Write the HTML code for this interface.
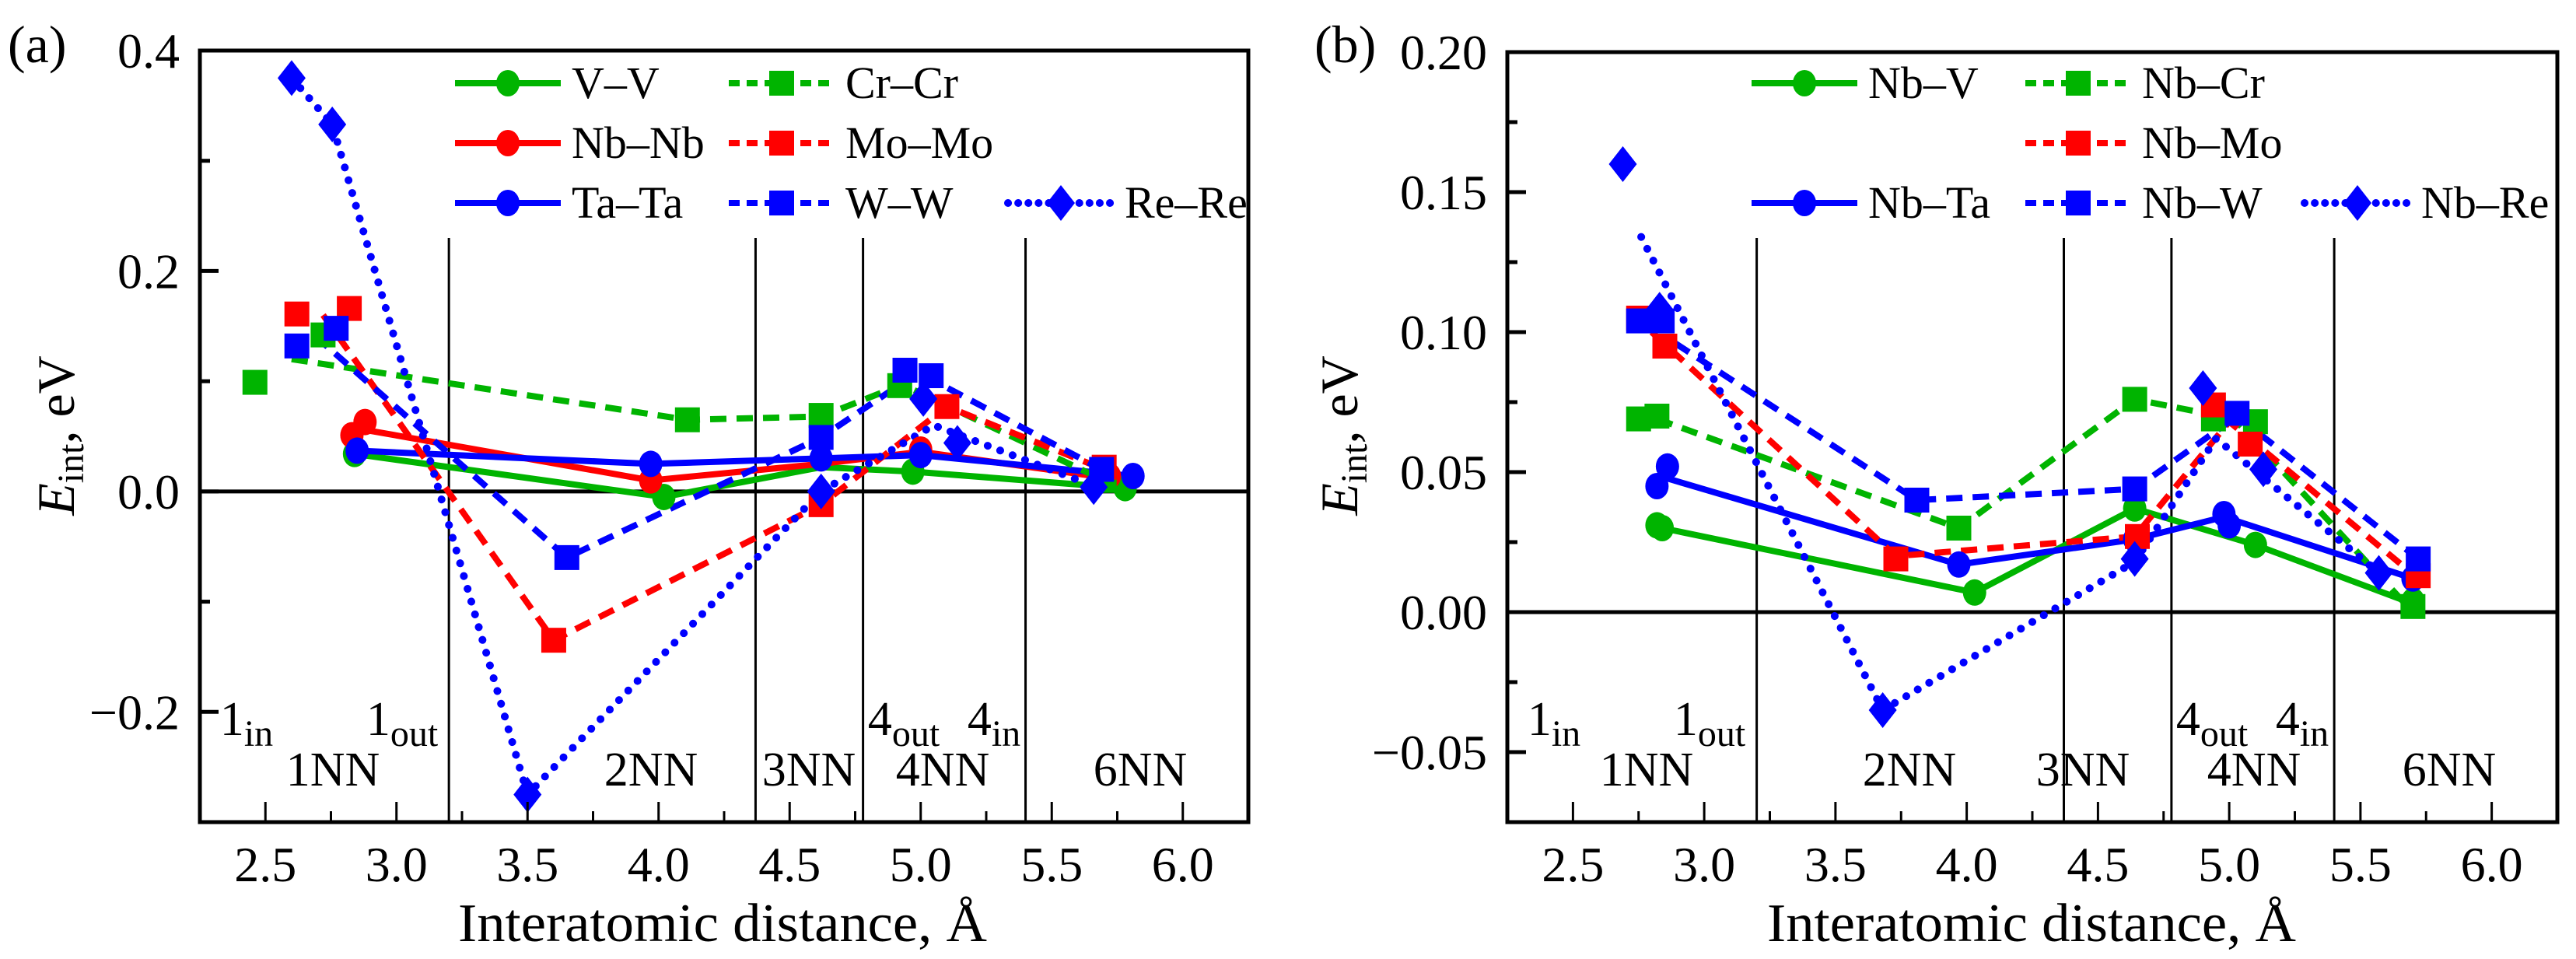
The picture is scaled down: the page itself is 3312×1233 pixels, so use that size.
<!DOCTYPE html>
<html><head><meta charset="utf-8"><title>Interaction energies vs interatomic distance</title>
<style>
html,body{margin:0;padding:0;background:#fff;}
svg{display:block;font-family:"Liberation Serif",serif;}
</style></head>
<body>
<svg id="fig" width="3312" height="1233" viewBox="0 0 3312 1233" xmlns="http://www.w3.org/2000/svg"></svg>
<script>
// ---------- Panel (a) data ----------
const aSeriesNames = ["V–V","Cr–Cr","Nb–Nb","Mo–Mo","Ta–Ta","W–W","Re–Re"];
const aVVLineX = [2.84,4.02,4.62,4.97,5.78];
const aVVLineY = [0.034,-0.005,0.022,0.018,0.003];
const aVVMarkX = [2.84,4.02,4.97,5.78];
const aVVMarkY = [0.034,-0.005,0.018,0.003];
const aNbNbLineX = [2.90,3.97,4.62,5.00,5.72];
const aNbNbLineY = [0.055,0.010,0.025,0.036,0.012];
const aNbNbMarkX = [2.83,2.88,3.97,5.00,5.72];
const aNbNbMarkY = [0.051,0.063,0.010,0.038,0.014];
const aTaTaLineX = [2.85,3.97,4.62,5.00,5.81];
const aTaTaLineY = [0.037,0.025,0.030,0.033,0.014];
const aTaTaMarkX = [2.85,3.97,4.62,5.00,5.81];
const aTaTaMarkY = [0.037,0.025,0.030,0.033,0.014];
const aCrLineX = [2.60,4.11,4.62,4.93,5.70];
const aCrLineY = [0.120,0.065,0.068,0.097,0.010];
const aCrMarkX = [2.46,2.72,4.11,4.62,4.92,5.70];
const aCrMarkY = [0.099,0.142,0.065,0.069,0.096,0.010];
const aMoLineX = [2.72,3.60,4.62,5.10,5.70];
const aMoLineY = [0.160,-0.135,-0.012,0.077,0.020];
const aMoMarkX = [2.62,2.82,3.60,4.62,5.10,5.70];
const aMoMarkY = [0.161,0.166,-0.135,-0.012,0.077,0.022];
const aWLineX = [2.69,3.65,4.62,4.99,5.69];
const aWLineY = [0.141,-0.060,0.049,0.108,0.020];
const aWMarkX = [2.62,2.77,3.65,4.62,4.94,5.04,5.69];
const aWMarkY = [0.132,0.148,-0.060,0.049,0.110,0.105,0.020];
const aReLineX = [2.60,2.755,3.50,4.62,5.05,5.66];
const aReLineY = [0.375,0.333,-0.275,0.000,0.060,0.005];
const aReMarkX = [2.60,2.755,3.50,4.62,5.01,5.14,5.66];
const aReMarkY = [0.375,0.333,-0.275,0.000,0.084,0.044,0.004];
const aYTicks = [-0.2,0.0,0.2,0.4];
const aYTickLabels = ["−0.2","0.0","0.2","0.4"];
const aYMinor = [-0.1,0.1,0.3];

// ---------- Panel (b) data ----------
const bVLineX = [2.84,4.03,4.64,5.10,5.70];
const bVLineY = [0.030,0.007,0.037,0.024,0.003];
const bVMarkX = [2.82,2.84,4.03,4.64,5.10,5.70];
const bVMarkY = [0.031,0.030,0.007,0.037,0.024,0.004];
const bTaLineX = [2.85,3.97,4.64,4.98,5.70];
const bTaLineY = [0.048,0.017,0.026,0.034,0.012];
const bTaMarkX = [2.82,2.86,3.97,4.64,4.98,5.00,5.70];
const bTaMarkY = [0.045,0.052,0.017,0.026,0.035,0.031,0.012];
const bCrLineX = [2.82,3.97,4.64,5.02,5.70];
const bCrLineY = [0.069,0.030,0.076,0.069,0.000];
const bCrMarkX = [2.75,2.82,3.97,4.64,4.94,5.10,5.70];
const bCrMarkY = [0.069,0.070,0.030,0.076,0.069,0.068,0.002];
const bMoLineX = [2.80,3.73,4.64,5.00,5.72];
const bMoLineY = [0.100,0.020,0.027,0.068,0.012];
const bMoMarkX = [2.75,2.85,3.73,4.65,4.94,5.08,5.72];
const bMoMarkY = [0.105,0.095,0.019,0.027,0.074,0.060,0.013];
const bWLineX = [2.89,3.81,4.64,5.03,5.72];
const bWLineY = [0.096,0.040,0.044,0.070,0.019];
const bWMarkX = [2.75,2.84,3.81,4.64,5.03,5.72];
const bWMarkY = [0.104,0.104,0.040,0.044,0.071,0.019];
const bReLineX = [2.76,3.68,4.64,4.95,5.57];
const bReLineY = [0.134,-0.035,0.018,0.062,0.014];
const bReMarkX = [2.69,2.83,3.68,4.64,4.90,5.13,5.57];
const bReMarkY = [0.160,0.108,-0.035,0.019,0.080,0.051,0.014];
const bYTicks = [-0.05,0.00,0.05,0.10,0.15,0.20];
const bYTickLabels = ["−0.05","0.00","0.05","0.10","0.15","0.20"];
const bYMinor = [-0.025,0.025,0.075,0.125,0.175];

const xTicks = [2.5,3.0,3.5,4.0,4.5,5.0,5.5,6.0];
const xTickLabels = ["2.5","3.0","3.5","4.0","4.5","5.0","5.5","6.0"];
const xMinor = [2.75,3.25,3.75,4.25,4.75,5.25,5.75];
const separators = [3.2,4.37,4.78,5.40];

const GREEN="#00b400", RED="#ff0000", BLUE="#0000ff";
const NS="http://www.w3.org/2000/svg";
const svg=document.getElementById('fig');
function mk(tag,parent){const e=document.createElementNS(NS,tag);parent.appendChild(e);return e;}

function panel(P){
  const g=mk('g',svg);
  
  
  const X=d=>P.x0+(d-P.xmin)/(P.xmax-P.xmin)*(P.x1-P.x0);
  const Y=v=>P.y1-(v-P.ymin)/(P.ymax-P.ymin)*(P.y1-P.y0);
  separators.forEach(s=>{
    const l=mk('line',g);
    
    
    l.setAttribute('x1',X(s));l.setAttribute('x2',X(s));l.setAttribute('y1',306);l.setAttribute('y2',P.y1);
    l.setAttribute('stroke','#000');l.setAttribute('stroke-width',3);
  });
  const z=mk('line',g);
  
  
  z.setAttribute('x1',P.x0);z.setAttribute('x2',P.x1);z.setAttribute('y1',Y(0));z.setAttribute('y2',Y(0));
  z.setAttribute('stroke','#000');z.setAttribute('stroke-width',5);
  P.series.forEach(s=>{
    const pl=mk('polyline',g);
    
    
    pl.setAttribute('points',s.lx.map((d,i)=>X(d)+','+Y(s.ly[i])).join(' '));
    pl.setAttribute('fill','none');pl.setAttribute('stroke',s.c);pl.setAttribute('stroke-width',8);
    if(s.dash==='dash'){pl.setAttribute('stroke-dasharray','21 13');}
    if(s.dash==='dot'){pl.setAttribute('stroke-dasharray','0.1 17');pl.setAttribute('stroke-linecap','round');pl.setAttribute('stroke-width',10);}
  });
  P.series.forEach(s=>{
    s.mx.forEach((d,i)=>{
      const m=drawMarker(g,s.m,X(d),Y(s.my[i]),s.c);
      
      
    });
  });
  const regs=[["1NN",P.r.nn1],["2NN",P.r.nn2],["3NN",P.r.nn3],["4NN",P.r.nn4],["6NN",P.r.nn6]];
  regs.forEach(r=>{
    const t=mk('text',g);
    
    
    t.setAttribute('x',r[1]);t.setAttribute('y',1010);t.setAttribute('font-size',62);t.setAttribute('text-anchor','middle');
    t.textContent=r[0];
  });
  const subs=[["1","in",P.r.in1],["1","out",P.r.out1],["4","out",P.r.out4],["4","in",P.r.in4]];
  subs.forEach(s=>{
    const t=mk('text',g);
    
    
    t.setAttribute('x',s[2]);t.setAttribute('y',945);t.setAttribute('font-size',62);t.setAttribute('text-anchor','middle');
    const a=mk('tspan',t);a.textContent=s[0];
    const b=mk('tspan',t);b.setAttribute('dy',14);b.setAttribute('font-size',48);b.textContent=s[1];
  });
  const fr=mk('rect',g);
  
  
  fr.setAttribute('x',P.x0);fr.setAttribute('y',P.y0);fr.setAttribute('width',P.x1-P.x0);fr.setAttribute('height',P.y1-P.y0);
  fr.setAttribute('fill','none');fr.setAttribute('stroke','#000');fr.setAttribute('stroke-width',5);
  xTicks.forEach((d,i)=>{
    const l=mk('line',g);
    
    
    l.setAttribute('x1',X(d));l.setAttribute('x2',X(d));l.setAttribute('y1',P.y1);l.setAttribute('y2',P.y1-26);
    l.setAttribute('stroke','#000');l.setAttribute('stroke-width',3);
    const t=mk('text',g);
    
    
    t.setAttribute('x',X(d));t.setAttribute('y',1133);t.setAttribute('font-size',64);t.setAttribute('text-anchor','middle');
    t.textContent=xTickLabels[i];
  });
  xMinor.forEach(d=>{
    const l=mk('line',g);
    
    
    l.setAttribute('x1',X(d));l.setAttribute('x2',X(d));l.setAttribute('y1',P.y1);l.setAttribute('y2',P.y1-14);
    l.setAttribute('stroke','#000');l.setAttribute('stroke-width',3);
  });
  P.yt.forEach((v,i)=>{
    const l=mk('line',g);
    
    
    l.setAttribute('x1',P.x0);l.setAttribute('x2',P.x0+24);l.setAttribute('y1',Y(v));l.setAttribute('y2',Y(v));
    l.setAttribute('stroke','#000');l.setAttribute('stroke-width',5);
    const t=mk('text',g);
    
    
    t.setAttribute('x',P.x0-26);t.setAttribute('y',Y(v)+22);t.setAttribute('font-size',64);t.setAttribute('text-anchor','end');
    t.textContent=P.ytl[i];
  });
  P.ym.forEach(v=>{
    const l=mk('line',g);
    
    
    l.setAttribute('x1',P.x0);l.setAttribute('x2',P.x0+13);l.setAttribute('y1',Y(v));l.setAttribute('y2',Y(v));
    l.setAttribute('stroke','#000');l.setAttribute('stroke-width',5);
  });
  const xt=mk('text',g);
  
  
  xt.setAttribute('x',P.xtx);xt.setAttribute('y',1210);xt.setAttribute('font-size',70);xt.setAttribute('text-anchor','middle');
  xt.setAttribute('textLength',680);xt.setAttribute('lengthAdjust','spacingAndGlyphs');
  xt.textContent='Interatomic distance, Å';
  const yt=mk('text',g);
  
  
  yt.setAttribute('transform','translate('+P.ytx+',560) rotate(-90)');
  yt.setAttribute('font-size',68);yt.setAttribute('text-anchor','middle');
  const e=mk('tspan',yt);e.setAttribute('font-style','italic');e.textContent='E';
  const s=mk('tspan',yt);s.setAttribute('font-size',48);s.setAttribute('dy',12);s.textContent='int';
  const r=mk('tspan',yt);r.setAttribute('dy',-12);r.textContent=', eV';
  const pl=mk('text',g);
  
  
  pl.setAttribute('x',P.plx);pl.setAttribute('y',80);pl.setAttribute('font-size',68);
  pl.textContent=P.label;
  P.legend.forEach(L=>{
    const lg=mk('g',g);
    
    
    const l=mk('line',lg);
    l.setAttribute('x1',L.x);l.setAttribute('x2',L.x+136);l.setAttribute('y1',L.y);l.setAttribute('y2',L.y);
    l.setAttribute('stroke',L.c);l.setAttribute('stroke-width',8);
    if(L.dash==='dash')l.setAttribute('stroke-dasharray','14 9');
    if(L.dash==='dot'){l.setAttribute('stroke-dasharray','0.1 13');l.setAttribute('stroke-linecap','round');l.setAttribute('stroke-width',10);}
    drawMarker(lg,L.m,L.x+68,L.y,L.c);
    const t=mk('text',lg);
    t.setAttribute('x',L.x+150);t.setAttribute('y',L.y+19);t.setAttribute('font-size',58);
    t.textContent=L.t;
  });
}
function drawMarker(g,type,x,y,c){
  let e;
  if(type==='o'){e=mk('ellipse',g);e.setAttribute('cx',x);e.setAttribute('cy',y);e.setAttribute('rx',15);e.setAttribute('ry',17);}
  else if(type==='s'){e=mk('rect',g);e.setAttribute('x',x-16);e.setAttribute('y',y-16);e.setAttribute('width',32);e.setAttribute('height',32);}
  else {e=mk('polygon',g);e.setAttribute('points',(x)+','+(y-23)+' '+(x+18)+','+y+' '+x+','+(y+23)+' '+(x-18)+','+y);}
  e.setAttribute('fill',c);
  return e;
}

panel({name:'panel-a',label:'(a)',plx:10,x0:257,x1:1605,y0:65,y1:1057,xmin:2.25,xmax:6.25,ymin:-0.3,ymax:0.4,
  yt:aYTicks,ytl:aYTickLabels,ym:aYMinor,xtx:929,ytx:95,
  r:{nn1:428,nn2:837,nn3:1040,nn4:1212,nn6:1466,in1:317,out1:517,out4:1162,in4:1278},
  series:[
   {id:'v-v',c:GREEN,m:'o',dash:'',lx:aVVLineX,ly:aVVLineY,mx:aVVMarkX,my:aVVMarkY},
   {id:'nb-nb',c:RED,m:'o',dash:'',lx:aNbNbLineX,ly:aNbNbLineY,mx:aNbNbMarkX,my:aNbNbMarkY},
   {id:'ta-ta',c:BLUE,m:'o',dash:'',lx:aTaTaLineX,ly:aTaTaLineY,mx:aTaTaMarkX,my:aTaTaMarkY},
   {id:'cr-cr',c:GREEN,m:'s',dash:'dash',lx:aCrLineX,ly:aCrLineY,mx:aCrMarkX,my:aCrMarkY},
   {id:'mo-mo',c:RED,m:'s',dash:'dash',lx:aMoLineX,ly:aMoLineY,mx:aMoMarkX,my:aMoMarkY},
   {id:'w-w',c:BLUE,m:'s',dash:'dash',lx:aWLineX,ly:aWLineY,mx:aWMarkX,my:aWMarkY},
   {id:'re-re',c:BLUE,m:'d',dash:'dot',lx:aReLineX,ly:aReLineY,mx:aReMarkX,my:aReMarkY}],
  legend:[
   {t:'V–V',c:GREEN,m:'o',dash:'',x:585,y:107},
   {t:'Cr–Cr',c:GREEN,m:'s',dash:'dash',x:937,y:107},
   {t:'Nb–Nb',c:RED,m:'o',dash:'',x:585,y:184},
   {t:'Mo–Mo',c:RED,m:'s',dash:'dash',x:937,y:184},
   {t:'Ta–Ta',c:BLUE,m:'o',dash:'',x:585,y:261},
   {t:'W–W',c:BLUE,m:'s',dash:'dash',x:937,y:261},
   {t:'Re–Re',c:BLUE,m:'d',dash:'dot',x:1296,y:261}]
});
panel({name:'panel-b',label:'(b)',plx:1690,x0:1938,x1:3288,y0:67,y1:1057,xmin:2.25,xmax:6.25,ymin:-0.075,ymax:0.20,
  yt:bYTicks,ytl:bYTickLabels,ym:bYMinor,xtx:2612,ytx:1745,
  r:{nn1:2117,nn2:2455,nn3:2678,nn4:2898,nn6:3149,in1:1998,out1:2198,out4:2844,in4:2960},
  series:[
   {id:'nb-v',c:GREEN,m:'o',dash:'',lx:bVLineX,ly:bVLineY,mx:bVMarkX,my:bVMarkY},
   {id:'nb-ta',c:BLUE,m:'o',dash:'',lx:bTaLineX,ly:bTaLineY,mx:bTaMarkX,my:bTaMarkY},
   {id:'nb-cr',c:GREEN,m:'s',dash:'dash',lx:bCrLineX,ly:bCrLineY,mx:bCrMarkX,my:bCrMarkY},
   {id:'nb-mo',c:RED,m:'s',dash:'dash',lx:bMoLineX,ly:bMoLineY,mx:bMoMarkX,my:bMoMarkY},
   {id:'nb-w',c:BLUE,m:'s',dash:'dash',lx:bWLineX,ly:bWLineY,mx:bWMarkX,my:bWMarkY},
   {id:'nb-re',c:BLUE,m:'d',dash:'dot',lx:bReLineX,ly:bReLineY,mx:bReMarkX,my:bReMarkY}],
  legend:[
   {t:'Nb–V',c:GREEN,m:'o',dash:'',x:2252,y:107},
   {t:'Nb–Cr',c:GREEN,m:'s',dash:'dash',x:2604,y:107},
   {t:'Nb–Mo',c:RED,m:'s',dash:'dash',x:2604,y:184},
   {t:'Nb–Ta',c:BLUE,m:'o',dash:'',x:2252,y:261},
   {t:'Nb–W',c:BLUE,m:'s',dash:'dash',x:2604,y:261},
   {t:'Nb–Re',c:BLUE,m:'d',dash:'dot',x:2963,y:261}]
});
</script>
</body></html>
